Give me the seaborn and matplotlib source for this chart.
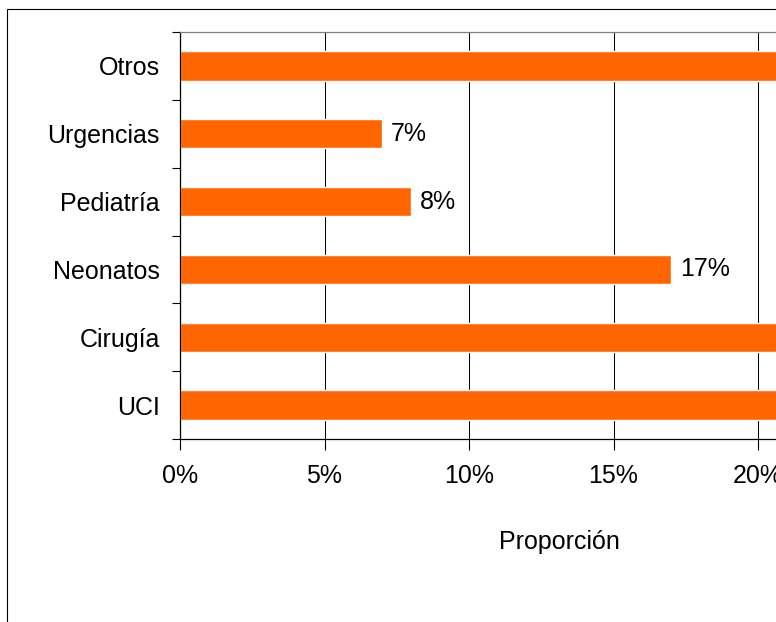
import pandas as pd
import matplotlib as mpl
import matplotlib.pyplot as plt
import seaborn as sns

# %%
categories = ["Otros", "Urgencias", "Pediatría", "Neonatos", "Cirugía", "UCI"]
values = [23, 7, 8, 17, 22, 23]
xticks = [0, 5, 10, 15, 20, 25]

df = pd.DataFrame({"Servicio": categories, "Proporción": values})

# %%
sns.set_style("white")
plt.rcParams['font.family'] = ['Liberation Sans', 'DejaVu Sans']
plt.rcParams['text.color'] = 'black'
plt.rcParams['xtick.color'] = 'black'
plt.rcParams['ytick.color'] = 'black'
plt.rcParams['axes.labelcolor'] = 'black'
fs = 18

fig = plt.figure(figsize=(7.76, 6.22), dpi=100)
ax = fig.add_axes([180 / 776, (622 - 439) / 622, 722.5 / 776, 407 / 622])

sns.barplot(data=df, x="Proporción", y="Servicio", order=categories,
            color="#FF6600", saturation=1, width=0.43, orient="h", ax=ax)

ax.set_xlim(0, 25)
ax.set_ylim(5.5, -0.5)
ax.set_xticks(xticks)
ax.xaxis.set_major_formatter(mpl.ticker.FuncFormatter(lambda x, p: "{:.0f}%".format(x)))
ax.tick_params(axis='x', direction='out', length=8, width=0.8, color='black',
               pad=10, labelsize=fs, bottom=True)
ax.tick_params(axis='y', which='major', length=0, pad=14.5, labelsize=fs)
ax.set_yticks([i + 0.5 for i in range(-1, len(categories))], minor=True)
ax.tick_params(axis='y', which='minor', direction='out', length=5.5, width=0.8,
               color='black', left=True)

ax.grid(axis='x', color='black', linewidth=0.75)
ax.grid(axis='y', visible=False)
ax.set_axisbelow(True)

for side in ['left', 'bottom']:
    ax.spines[side].set_color('black')
    ax.spines[side].set_linewidth(0.9)
for side in ['top', 'right']:
    ax.spines[side].set_color('#808080')
    ax.spines[side].set_linewidth(0.9)

# labels of the long bars fall outside the visible crop
labels = ["{}%".format(v) if v < 20 else "" for v in values]
ax.bar_label(ax.containers[0], labels=labels, padding=6, fontsize=fs)

ax.set_ylabel("")
ax.set_xlabel("Proporción", fontsize=fs)
ax.xaxis.set_label_coords((559 - 180) / 722.5, -(542 - 439) / 407)
ax.xaxis.label.set_verticalalignment('center')

fig.patches.append(mpl.patches.Rectangle((7 / 776, -0.2), 1.5, 0.2 + 1 - 9 / 622,
                                         transform=fig.transFigure, fill=False,
                                         edgecolor='black', linewidth=0.8))

plt.savefig("out.png", dpi=100)
